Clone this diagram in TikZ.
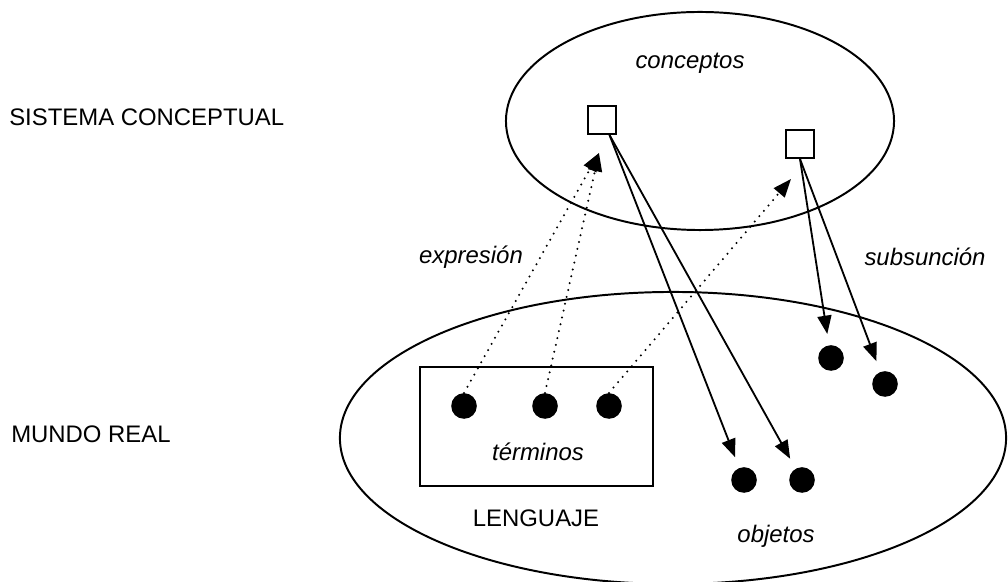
\documentclass[tikz,border=0pt]{standalone}
\usepackage{fontspec}
\setmainfont{Liberation Sans}
\usetikzlibrary{arrows.meta,shapes.geometric,calc}
\begin{document}
\begin{tikzpicture}[x=0.025cm,y=-0.025cm,
  txt/.style={font=\fontsize{17}{20}\selectfont,inner sep=0pt},
  lab/.style={font=\fontsize{17}{20}\selectfont\itshape,inner sep=0pt},
  region/.style={draw,ellipse,line width=1.4pt,inner sep=0pt},
  concept/.style={draw,rectangle,line width=1.4pt,minimum size=0.7cm,inner sep=0pt},
  thing/.style={circle,fill=black,minimum size=0.64cm,inner sep=0pt},
  langbox/.style={draw,rectangle,line width=1.4pt,minimum width=5.825cm,minimum height=2.975cm,inner sep=0pt},
  link/.style={line width=1.3pt,-{Triangle[length=13pt,width=10pt]}},
  expr/.style={line width=1.6pt,dash pattern=on 0pt off 5pt,line cap=round,-{Triangle[length=13pt,width=10pt]}},
]
\useasboundingbox (0,0) rectangle (1008,582);
\clip (0,0) rectangle (1008,582);

% level names
\node[txt,anchor=west] (sc) at (9,117) {SISTEMA CONCEPTUAL};
\node[txt,anchor=west] (mr) at (11,434) {MUNDO REAL};

% conceptual system
\node[region,minimum width=9.7cm,minimum height=5.45cm] (top) at (700,121) {};
\node[lab] (conc) at (690,63) {conceptos};
\node[concept] (c1) at (602,120) {};
\node[concept] (c2) at (800,144) {};

% real world
\node[region,minimum width=16.65cm,minimum height=7.3cm] (world) at (673,438) {};
\node[langbox] (lang) at (536.5,426.5) {};
\node[lab] (term) at (538,452) {términos};
\node[txt] (lenguaje) at (536,518) {LENGUAJE};
\node[lab] (obj) at (776,536) {objetos};

\node[thing] (t1) at (464,406) {};
\node[thing] (t2) at (545,406) {};
\node[thing] (t3) at (609,406) {};
\node[thing] (o1) at (744,480) {};
\node[thing] (o2) at (802,480) {};
\node[thing] (s1) at (831,358) {};
\node[thing] (s2) at (885,384) {};

% relation names
\node[lab] (expl) at (471,257) {expresión};
\node[lab] (subl) at (925,257) {subsunción};

% expression: terms point to concepts
\coordinate (e1) at ($(c1.south)+(-3,18)$);
\coordinate (e2) at ($(c2.south)+(-9,20)$);
\draw[expr] (t1.north) -- (e1);
\draw[expr] (t2.north) -- (e1);
\draw[expr] (t3.north) -- (e2);

% subsumption: concepts point to objects
\coordinate (f1) at ($(c1.south)!0.5!(c1.south east)$);
\draw[link,shorten >=8pt] (f1) -- (o1);
\draw[link,shorten >=8pt] (f1) -- (o2);
\draw[link,shorten >=8pt] (c2.south) -- (s1);
\draw[link,shorten >=8pt] (c2.south) -- (s2);
\end{tikzpicture}
\end{document}
